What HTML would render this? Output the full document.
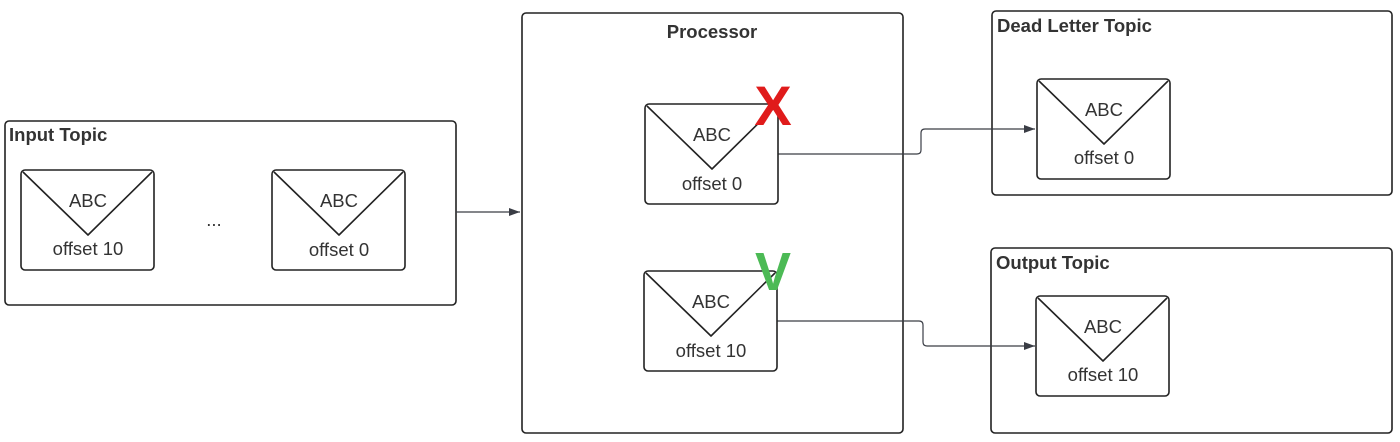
<!DOCTYPE html>
<html><head><style>
body{margin:0;background:#fff;}
svg{display:block;font-family:"Liberation Sans",sans-serif;}
</style></head><body>
<svg width="1400" height="442" viewBox="0 0 1400 442">
<defs><marker id="a" markerWidth="12" markerHeight="10" refX="11" refY="5" orient="auto" markerUnits="userSpaceOnUse"><path d="M0,1 L11,5 L0,9 Z" fill="#3a3d45"/></marker></defs>
<g fill="none" stroke="#222" stroke-width="1.6">
<rect x="5" y="121" width="451" height="184" rx="4"/>
<rect x="522" y="13" width="381" height="420" rx="4"/>
<rect x="992" y="11" width="400" height="184" rx="4"/>
<rect x="991" y="248" width="401" height="185" rx="4"/>
</g>
<g font-weight="bold" font-size="18.5" fill="#333">
<text x="9" y="141">Input Topic</text>
<text x="712" y="38" text-anchor="middle">Processor</text>
<text x="997" y="32">Dead Letter Topic</text>
<text x="996" y="269">Output Topic</text>
</g>
<g fill="none" stroke="#3a3d45" stroke-width="1.2">
<path d="M456,212 H520" marker-end="url(#a)"/>
<path d="M778,154 H917 Q921,154 921,150 V133 Q921,129 925,129 H1035" marker-end="url(#a)"/>
<path d="M777,321 H919 Q923,321 923,325 V342 Q923,346 927,346 H1035" marker-end="url(#a)"/>
</g>
<g fill="#fff" stroke="#222" stroke-width="1.6" stroke-linejoin="round">
<rect x="21" y="170" width="133" height="100" rx="4"/><path d="M23,172 L88,235 L152,172" fill="none"/>
<rect x="272" y="170" width="133" height="100" rx="4"/><path d="M274,172 L339,235 L403,172" fill="none"/>
<rect x="645" y="104" width="133" height="100" rx="4"/><path d="M647,106 L712,169 L776,106" fill="none"/>
<rect x="644" y="271" width="133" height="100" rx="4"/><path d="M646,273 L711,336 L775,273" fill="none"/>
<rect x="1037" y="79" width="133" height="100" rx="4"/><path d="M1039,81 L1104,144 L1168,81" fill="none"/>
<rect x="1036" y="296" width="133" height="100" rx="4"/><path d="M1038,298 L1103,361 L1167,298" fill="none"/>
</g>
<g font-size="18.5" fill="#333" text-anchor="middle">
<text x="88" y="207">ABC</text><text x="88" y="255">offset 10</text>
<text x="339" y="207">ABC</text><text x="339" y="256">offset 0</text>
<text x="214" y="226">...</text>
<text x="712" y="141">ABC</text><text x="712" y="190">offset 0</text>
<text x="711" y="308">ABC</text><text x="711" y="357">offset 10</text>
<text x="1104" y="116">ABC</text><text x="1104" y="164">offset 0</text>
<text x="1103" y="333">ABC</text><text x="1103" y="381">offset 10</text>
</g>
<text x="773" y="125" font-size="56" font-weight="bold" fill="#e01b1b" text-anchor="middle">X</text>
<text x="773" y="290" font-size="54" font-weight="bold" fill="#4cba55" text-anchor="middle">V</text>
</svg>
</body></html>
